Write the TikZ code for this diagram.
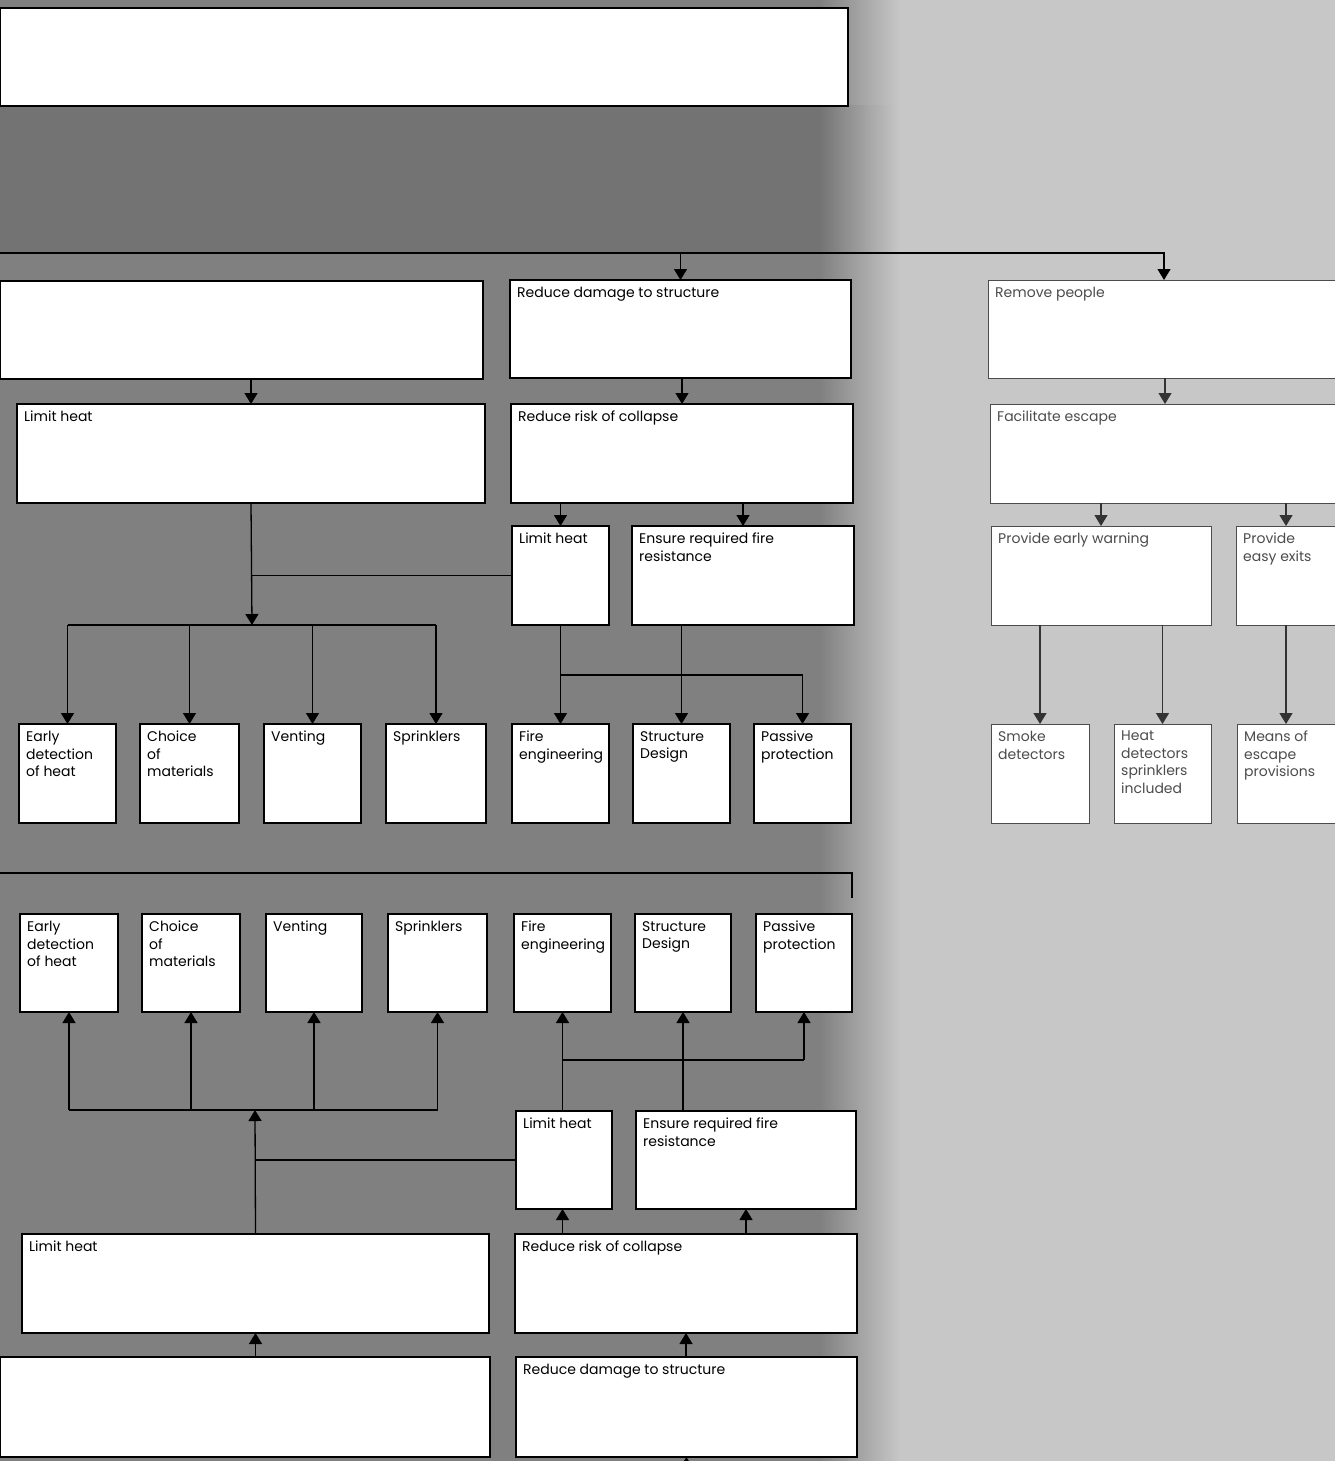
\documentclass[tikz,border=0pt]{standalone}
\usepackage{fontspec}
\setmainfont{Poppins}
\usetikzlibrary{arrows.meta,calc}
\tikzset{
  box/.style={draw=black, fill=white, line width=1.3pt, inner sep=0pt, outer sep=0pt, anchor=north west},
  rbox/.style={box, draw=black!70, line width=1pt},
  boxlbl/.style={inner sep=0pt, anchor=north west, align=left, font=\fontsize{14}{17.5}\selectfont},
  rboxlbl/.style={boxlbl, text=black!70},
  conn/.style={line width=1.3pt},
  arr/.style={conn, -{Triangle[width=13pt,length=11pt]}},
  rarr/.style={arr, draw=black!80},
  heavy/.style={line width=2.8pt}
}
% \bx{style}{name}{x1}{y1}{x2}{y2}{text}
\newcommand\bx[7]{%
  \node[#1, minimum width={#5pt-#3pt}, minimum height={#6pt-#4pt}] (#2) at (#3,#4) {};
  \node[#1lbl] (#2-t) at ([shift={(7pt,-7pt)}]#2.north west) {#7};}
\begin{document}
\begin{tikzpicture}[x=1pt,y=-1pt]
\useasboundingbox (0,0) rectangle (1335,1461);
% background
\fill[black!22] (0,0) rectangle (1335,1461);
\fill[black!50] (0,0) rectangle (820,1461);
\shade[left color=black!50, right color=black!22] (819,0) rectangle (900,1461);
\fill[black!55] (0,106) rectangle (820,253);
\shade[left color=black!55, right color=black!22] (819,106) rectangle (900,253);
\begin{scope}
\clip (0,0) rectangle (1335,1461);
% row 0
\node[box, minimum width=848pt, minimum height=98pt] (top) at (0,8) {};
% row 1
\bx{box}{l1}{0}{281}{483}{379}{}
\bx{box}{m1}{510}{280}{851}{378}{Reduce damage to structure}
\bx{rbox}{r1}{988}{280}{1340}{378}{Remove people}
% row 2
\bx{box}{l2}{17}{404}{485}{503}{Limit heat}
\bx{box}{m2}{511}{404}{853}{503}{Reduce risk of collapse}
\bx{rbox}{r2}{990}{404}{1340}{503}{Facilitate escape}
% row 3
\bx{box}{m3a}{512}{526}{609}{625}{Limit heat}
\bx{box}{m3b}{632}{526}{854}{625}{Ensure required fire\\resistance}
\bx{rbox}{r3a}{991}{526}{1211}{625}{Provide early warning}
\bx{rbox}{r3b}{1236}{526}{1340}{625}{Provide\\easy exits}
% row 4
\bx{box}{e4}{19}{724}{116}{823}{Early\\detection\\of heat}
\bx{box}{c4}{140}{724}{239}{823}{Choice\\of\\materials}
\bx{box}{v4}{264}{724}{361}{823}{Venting}
\bx{box}{s4}{386}{724}{486}{823}{Sprinklers}
\bx{box}{f4}{512}{724}{609}{823}{Fire\\engineering}
\bx{box}{d4}{633}{724}{730}{823}{Structure\\Design}
\bx{box}{p4}{754}{724}{851}{823}{Passive\\protection}
\bx{rbox}{sm4}{991}{724}{1089}{823}{Smoke\\detectors}
\bx{rbox}{hd4}{1114}{724}{1211}{823}{Heat\\detectors\\sprinklers\\included}
\bx{rbox}{me4}{1237}{724}{1340}{823}{Means of\\escape\\provisions}
% upper connectors
\coordinate (tl) at (0,253);
\draw[arr] (tl) -| (r1.north);
\draw[arr] (m1.north |- tl) -- (m1.north);
\draw[arr] (l2.north |- l1.south) -- (l2.north);
\draw[arr] (m2.north |- m1.south) -- (m2.north);
\draw[rarr] (r2.north |- r1.south) -- (r2.north);
\draw[arr] (m3a.north |- m2.south) -- (m3a.north);
\draw[arr] (m3b.north |- m2.south) -- (m3b.north);
\draw[rarr] (r3a.north |- r2.south) -- (r3a.north);
\draw[rarr] (1286,503) -- (1286,526);
\coordinate (busL) at (252,625);
\draw[arr] (l2.south) -- (busL);
\draw[conn] (m3a.west) -- (m3a.west -| busL);
\draw[conn] (e4.north |- busL) -- (s4.north |- busL);
\foreach \n in {e4,c4,v4,s4} \draw[arr] (\n.north |- busL) -- (\n.north);
\draw[arr] (m3a.south) -- (f4.north);
\draw[arr] (d4.north |- m3b.south) -- (d4.north);
\coordinate (busM) at (561,675);
\draw[conn] (busM) -- (busM -| p4.north);
\draw[arr] (busM -| p4.north) -- (p4.north);
\draw[rarr] (sm4.north |- r3a.south) -- (sm4.north);
\draw[rarr] (hd4.north |- r3a.south) -- (hd4.north);
\draw[rarr] (1286,625) -- (1286,724);
% divider
\coordinate (dv1) at (0,873);
\coordinate (dv2) at (852,873);
\coordinate (dv3) at (852,898);
\draw[heavy] (dv1) -- (dv2) -- (dv3);
% row 5
\bx{box}{e5}{20}{914}{118}{1012}{Early\\detection\\of heat}
\bx{box}{c5}{142}{914}{240}{1012}{Choice\\of\\materials}
\bx{box}{v5}{266}{914}{362}{1012}{Venting}
\bx{box}{s5}{388}{914}{487}{1012}{Sprinklers}
\bx{box}{f5}{514}{914}{611}{1012}{Fire\\engineering}
\bx{box}{d5}{635}{914}{731}{1012}{Structure\\Design}
\bx{box}{p5}{756}{914}{852}{1012}{Passive\\protection}
% row 6
\bx{box}{m6a}{516}{1111}{612}{1209}{Limit heat}
\bx{box}{m6b}{636}{1111}{856}{1209}{Ensure required fire\\resistance}
% row 7
\bx{box}{l7}{22}{1234}{489}{1333}{Limit heat}
\bx{box}{m7}{515}{1234}{857}{1333}{Reduce risk of collapse}
% row 8
\bx{box}{l8}{0}{1357}{490}{1457}{}
\bx{box}{m8}{516}{1357}{857}{1457}{Reduce damage to structure}
% lower connectors
\coordinate (busL5) at (255,1110);
\draw[arr] (l7.north) -- (busL5);
\draw[conn] (m6a.west) -- (m6a.west -| busL5);
\draw[conn] (e5.south |- busL5) -- (s5.south |- busL5);
\foreach \n in {e5,c5,v5,s5} \draw[arr] (\n.south |- busL5) -- (\n.south);
\draw[arr] (f5.south |- m6a.north) -- (f5.south);
\draw[arr] (d5.south |- m6b.north) -- (d5.south);
\coordinate (busM5) at (563,1060);
\draw[conn] (busM5) -- (busM5 -| p5.south);
\draw[arr] (busM5 -| p5.south) -- (p5.south);
\draw[arr] (f5.south |- m7.north) -- (f5.south |- m6a.south);
\draw[arr] (m6b.south |- m7.north) -- (m6b.south);
\draw[arr] (l7.south |- l8.north) -- (l7.south);
\draw[arr] (m7.south |- m8.north) -- (m7.south);
\coordinate (bot) at (686,1480);
\draw[arr] (bot) -- (m8.south);
\end{scope}
\end{tikzpicture}
\end{document}
